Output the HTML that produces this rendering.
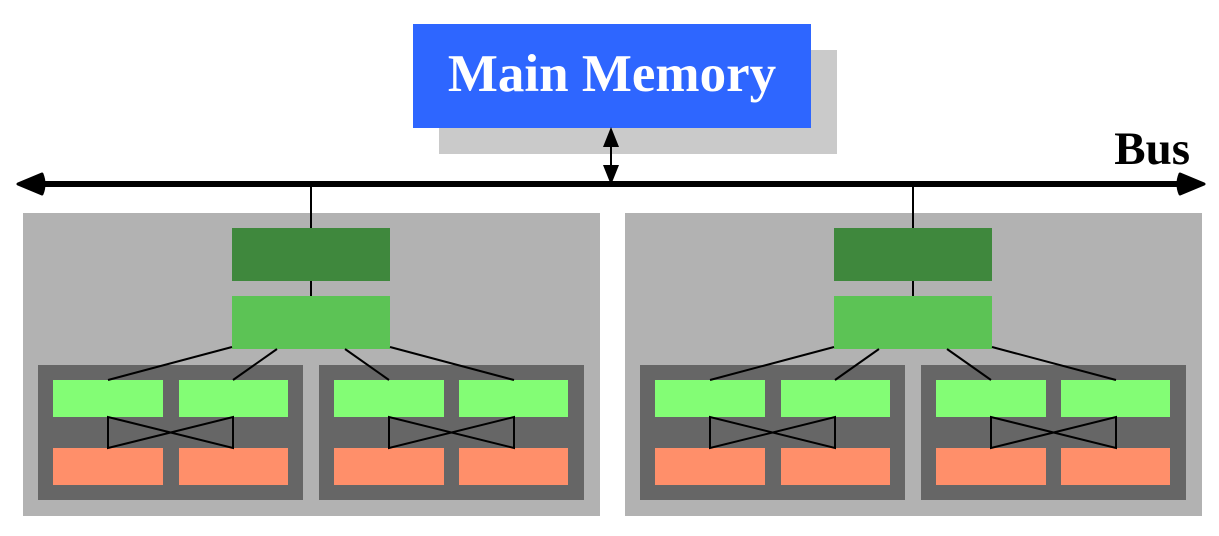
<!DOCTYPE html>
<html><head><style>body{margin:0;background:#fff}</style></head><body>
<svg width="1219" height="531" xmlns="http://www.w3.org/2000/svg">
<rect x="439" y="50" width="398" height="104" fill="#cacaca"/>
<rect x="413" y="24" width="398" height="104" fill="#2e66ff"/>
<text x="612" y="91" text-anchor="middle" font-family="Liberation Serif" font-weight="bold" font-size="53" fill="#fff">Main Memory</text>
<text x="1190" y="164" text-anchor="end" font-family="Liberation Serif" font-weight="bold" font-size="47">Bus</text>
<line x1="36" y1="184" x2="1186" y2="184" stroke="#000" stroke-width="6"/>
<path d="M18 184 L42 174 Q46 184 42 194 Z" fill="#000" stroke="#000" stroke-width="3" stroke-linejoin="round"/>
<path d="M1204 184 L1180 174 Q1176 184 1180 194 Z" fill="#000" stroke="#000" stroke-width="3" stroke-linejoin="round"/>
<line x1="611" y1="140" x2="611" y2="172" stroke="#000" stroke-width="2"/>
<path d="M611 127 L603 147 L619 147 Z M611 185 L603 165 L619 165 Z" fill="#000"/>
<g id="n">
<rect x="23" y="213" width="577" height="303" fill="#b2b2b2"/>
<line x1="311" y1="186" x2="311" y2="228" stroke="#000" stroke-width="2"/>
<rect x="232" y="228" width="158" height="53" fill="#3f883d"/>
<line x1="311" y1="281" x2="311" y2="296" stroke="#000" stroke-width="2"/>
<rect x="232" y="296" width="158" height="53" fill="#5cc355"/>
<rect x="38" y="365" width="265" height="135" fill="#666"/>
<rect x="319" y="365" width="265" height="135" fill="#666"/>
<g fill="#83fd75"><rect x="53" y="380" width="110" height="37"/><rect x="179" y="380" width="109" height="37"/><rect x="334" y="380" width="110" height="37"/><rect x="459" y="380" width="109" height="37"/></g>
<g fill="#ff8f6a"><rect x="53" y="448" width="110" height="37"/><rect x="179" y="448" width="109" height="37"/><rect x="334" y="448" width="110" height="37"/><rect x="459" y="448" width="109" height="37"/></g>
<g stroke="#000" stroke-width="2" fill="none">
<line x1="232" y1="347" x2="108" y2="380"/><line x1="277" y1="349" x2="233" y2="380"/>
<line x1="345" y1="349" x2="389" y2="380"/><line x1="390" y1="347" x2="514" y2="380"/>
<path d="M108 417 L108 448 L233 417 L233 448 Z"/>
<path d="M389 417 L389 448 L514 417 L514 448 Z"/>
</g>
</g>
<use href="#n" x="602"/>
</svg>
</body></html>
